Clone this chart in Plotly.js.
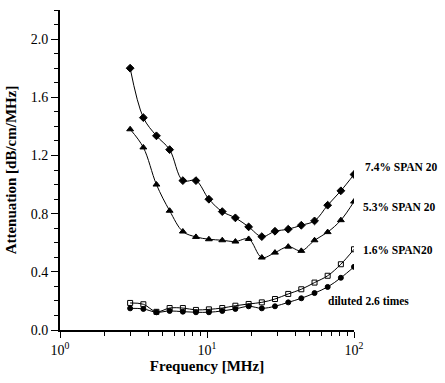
<!DOCTYPE html>
<html>
<head>
<meta charset="utf-8">
<script src="https://cdn.plot.ly/plotly-3.0.1.min.js"></script>
<style>html,body{margin:0;padding:0;background:#fff;}#chart{width:445px;height:383px;}</style>
</head>
<body>
<div id="chart"></div>
<script>
// Frequencies (MHz) of the measured points
const freq = [3.0, 3.69, 4.53, 5.57, 6.85, 8.41, 10.3, 12.7, 15.6, 19.2, 23.6, 29.0, 35.7, 43.8, 53.9, 66.2, 81.4, 100];

// Attenuation [dB/cm/MHz]
const span74 = [1.80, 1.46, 1.335, 1.24, 1.027, 1.027, 0.899, 0.814, 0.771, 0.709, 0.642, 0.679, 0.693, 0.720, 0.750, 0.858, 0.957, 1.069];
const span53 = [1.38, 1.255, 1.00, 0.82, 0.677, 0.640, 0.624, 0.617, 0.608, 0.626, 0.498, 0.532, 0.573, 0.544, 0.617, 0.673, 0.755, 0.883];
const span16 = [0.186, 0.177, 0.125, 0.151, 0.151, 0.138, 0.142, 0.151, 0.167, 0.179, 0.190, 0.213, 0.248, 0.280, 0.326, 0.373, 0.452, 0.555];
const diluted = [0.149, 0.145, 0.122, 0.131, 0.126, 0.122, 0.122, 0.131, 0.145, 0.163, 0.149, 0.163, 0.190, 0.218, 0.254, 0.296, 0.359, 0.434];

const seriesNames = ['7.4% SPAN 20', '5.3% SPAN 20', '1.6% SPAN20', 'diluted 2.6 times'];

const xTickVals = [1, 10, 100];
const xTickText = ['10<sup>0</sup>', '10<sup>1</sup>', '10<sup>2</sup>'];
const xMinorVals = [2, 3, 4, 5, 6, 7, 8, 9, 20, 30, 40, 50, 60, 70, 80, 90];

const FONT = '"Liberation Serif", "Times New Roman", serif';

function tr(y, sym, size, name) {
  return {
    x: freq, y: y, name: name, type: 'scatter', mode: 'lines+markers',
    line: {color: '#000', width: 1, shape: 'spline', smoothing: 1},
    marker: {symbol: sym, size: size, color: '#000', line: {color: '#000', width: 1}},
    showlegend: false
  };
}

const data = [
  tr(span74, 'diamond', 6, seriesNames[0]),
  tr(span53, 'triangle-up', 6, seriesNames[1]),
  tr(span16, 'square-open', 5, seriesNames[2]),
  tr(diluted, 'circle', 5, seriesNames[3])
];

const layout = {
  width: 445, height: 383,
  margin: {l: 60, r: 91, t: 10, b: 53},
  paper_bgcolor: '#fff', plot_bgcolor: '#fff',
  font: {family: FONT, color: '#000', size: 14},
  xaxis: {
    type: 'log', range: [0, 2],
    showline: true, linecolor: '#000', linewidth: 2,
    showgrid: false, zeroline: false,
    ticks: 'outside', ticklen: 6, tickwidth: 1, tickcolor: '#000',
    tickmode: 'array', tickvals: xTickVals, ticktext: xTickText,
    tickfont: {family: FONT, size: 14},
    minor: {tickmode: 'array', tickvals: xMinorVals, ticks: 'outside', ticklen: 4, tickwidth: 1, tickcolor: '#000'},
    title: {text: 'Frequency [MHz]', font: {family: FONT, size: 15, weight: 'bold'}, standoff: 3}
  },
  yaxis: {
    range: [0, 2.2],
    showline: true, linecolor: '#000', linewidth: 2,
    showgrid: false, zeroline: false,
    ticks: 'outside', ticklen: 7, tickwidth: 1, tickcolor: '#000',
    tick0: 0, dtick: 0.4, tickformat: '.1f',
    tickfont: {family: FONT, size: 14},
    minor: {dtick: 0.1, ticks: 'outside', ticklen: 4, tickwidth: 1, tickcolor: '#000'},
    title: {text: 'Attenuation [dB/cm/MHz]', font: {family: FONT, size: 15, weight: 'bold'}, standoff: 10}
  },
  annotations: [
    {text: seriesNames[0], xref: 'paper', yref: 'paper', x: (363 - 60) / 294, y: (330 - 167) / 320, xanchor: 'left', yanchor: 'middle', showarrow: false, font: {family: FONT, size: 11.5, weight: 'bold'}},
    {text: seriesNames[1], xref: 'paper', yref: 'paper', x: (361 - 60) / 294, y: (330 - 207) / 320, xanchor: 'left', yanchor: 'middle', showarrow: false, font: {family: FONT, size: 11.5, weight: 'bold'}},
    {text: seriesNames[2], xref: 'paper', yref: 'paper', x: (361 - 60) / 294, y: (330 - 250) / 320, xanchor: 'left', yanchor: 'middle', showarrow: false, font: {family: FONT, size: 11.5, weight: 'bold'}},
    {text: seriesNames[3], xref: 'paper', yref: 'paper', x: (326 - 60) / 294, y: (330 - 301) / 320, xanchor: 'left', yanchor: 'middle', showarrow: false, font: {family: FONT, size: 11.5, weight: 'bold'}}
  ]
};

Plotly.newPlot('chart', data, layout, {displayModeBar: false, staticPlot: true});
</script>
</body>
</html>
